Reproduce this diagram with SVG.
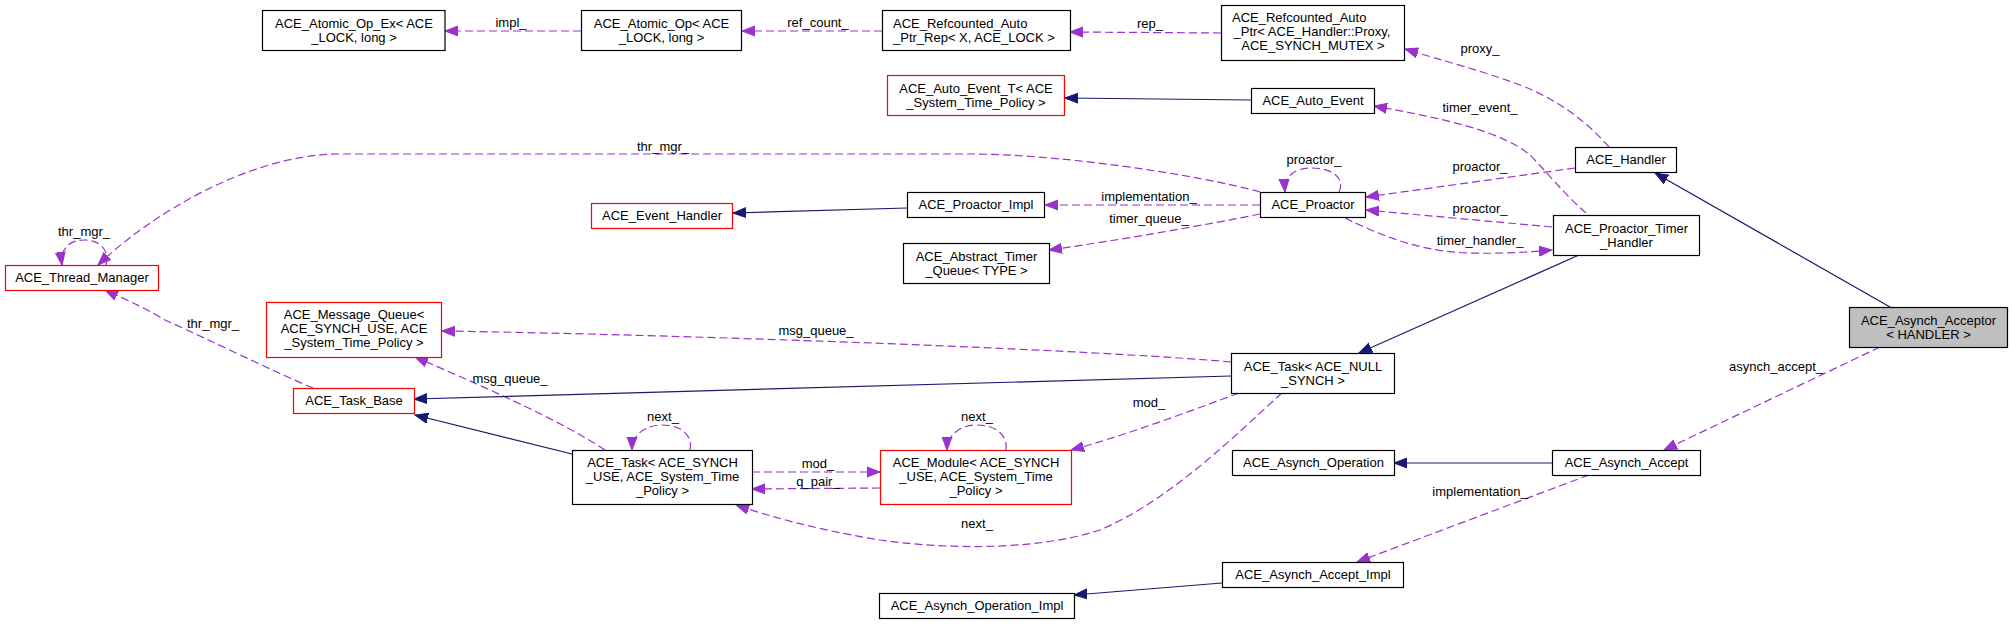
<svg xmlns="http://www.w3.org/2000/svg" width="2012" height="624" viewBox="0 0 2012 624">
<style>
  .node rect { fill: #ffffff; stroke: #000000; stroke-width: 1.2; }
  .node.red rect { stroke: #ff0000; }
  .node.cur rect { fill: #bfbfbf; }
  text { font-family: "Liberation Sans", Arial, sans-serif; font-size: 13px; fill: #000000; }
  .node text { text-anchor: middle; }
  .lbl { text-anchor: middle; }
  .use { fill: none; stroke: #9a32cd; stroke-width: 1.2; stroke-dasharray: 8,4; marker-end: url(#ap); }
  .inh { fill: none; stroke: #191970; stroke-width: 1.2; marker-end: url(#an); }
</style>
<defs>
  <marker id="ap" markerUnits="userSpaceOnUse" markerWidth="14" markerHeight="12" viewBox="0 0 14 12" refX="13" refY="6" orient="auto">
    <path d="M0,1 L13,6 L0,11 Z" fill="#9a32cd" stroke="#9a32cd" stroke-width="1"/>
  </marker>
  <marker id="an" markerUnits="userSpaceOnUse" markerWidth="14" markerHeight="12" viewBox="0 0 14 12" refX="13" refY="6" orient="auto">
    <path d="M0,1 L13,6 L0,11 Z" fill="#191970" stroke="#191970" stroke-width="1"/>
  </marker>
</defs>
<rect x="0" y="0" width="2012" height="624" fill="#ffffff"/>

<g id="connectors">
  <!-- usage (dashed purple) -->
  <path class="use" d="M581,31 L445,31"/>
  <text class="lbl" x="511" y="27">impl_</text>
  <path class="use" d="M882,31 L742,31"/>
  <text class="lbl" x="818" y="27">ref_count_</text>
  <path class="use" d="M1221,33 L1070,32"/>
  <text class="lbl" x="1150" y="28">rep_</text>
  <path class="use" d="M1609,147 C1590,125 1560,100 1520,85 C1480,70 1440,60 1405,49"/>
  <text class="lbl" x="1480" y="53">proxy_</text>
  <path class="use" d="M1586,213 C1565,195 1545,170 1530,155 C1500,130 1440,118 1374,106"/>
  <text class="lbl" x="1480" y="112">timer_event_</text>
  <path class="use" d="M1575,168 L1366,197"/>
  <text class="lbl" x="1480" y="171">proactor_</text>
  <path class="use" d="M1552,227 L1366,210"/>
  <text class="lbl" x="1480" y="213">proactor_</text>
  <path class="use" d="M1345,218 C1380,235 1420,252 1470,253 C1500,254 1530,252 1552,250"/>
  <text class="lbl" x="1480" y="245">timer_handler_</text>
  <path class="use" d="M1260,205 L1045,205"/>
  <text class="lbl" x="1149" y="201">implementation_</text>
  <path class="use" d="M1260,214 C1200,226 1120,240 1049,250"/>
  <text class="lbl" x="1149" y="223">timer_queue_</text>
  <path class="use" d="M1339,192 C1345,180 1335,168 1312,168 C1292,168 1284,178 1285,192"/>
  <text class="lbl" x="1314" y="164">proactor_</text>
  <path class="use" d="M1260,192 C1200,175 1060,154 970,154 L340,154 C250,154 150,215 98,265"/>
  <text class="lbl" x="663" y="151">thr_mgr_</text>
  <path class="use" d="M106,265 C110,250 100,240 84,240 C68,240 60,250 62,265"/>
  <text class="lbl" x="84" y="236">thr_mgr_</text>
  <path class="use" d="M313,388 C270,370 210,340 165,320 C140,305 120,297 105,290"/>
  <text class="lbl" x="213" y="328">thr_mgr_</text>
  <path class="use" d="M605,450 C560,420 480,385 415,357"/>
  <text class="lbl" x="510" y="383">msg_queue_</text>
  <path class="use" d="M1231,362 C1100,350 700,335 442,331"/>
  <text class="lbl" x="816" y="335">msg_queue_</text>
  <path class="use" d="M690,450 C693,437 683,425 662,425 C643,425 632,437 632,450"/>
  <text class="lbl" x="663" y="421">next_</text>
  <path class="use" d="M752,472 L880,472"/>
  <text class="lbl" x="818" y="468">mod_</text>
  <path class="use" d="M880,488 L752,489"/>
  <text class="lbl" x="818" y="486">q_pair_</text>
  <path class="use" d="M1006,450 C1008,437 998,425 977,425 C958,425 947,437 947,450"/>
  <text class="lbl" x="977" y="421">next_</text>
  <path class="use" d="M1239,393 C1180,415 1120,437 1071,450"/>
  <text class="lbl" x="1149" y="407">mod_</text>
  <path class="use" d="M1282,393 C1230,440 1170,500 1100,530 C1040,550 950,550 880,540 C830,532 780,520 736,505"/>
  <text class="lbl" x="977" y="528">next_</text>
  <path class="use" d="M1880,347 L1664,450"/>
  <text class="lbl" x="1776" y="371">asynch_accept_</text>
  <path class="use" d="M1589,475 L1357,562"/>
  <text class="lbl" x="1480" y="496">implementation_</text>

  <!-- inheritance (solid navy) -->
  <path class="inh" d="M1251,100 L1065,98"/>
  <path class="inh" d="M907,208 L733,213"/>
  <path class="inh" d="M1890,307 L1655,173"/>
  <path class="inh" d="M1579,255 L1359,353"/>
  <path class="inh" d="M1231,376 L414,399"/>
  <path class="inh" d="M572,454 L415,415"/>
  <path class="inh" d="M1552,463 L1394,463"/>
  <path class="inh" d="M1222,583 L1074,595"/>
</g>

<g id="n_atomic_op_ex" class="node"><rect x="262.5" y="10.5" width="182.5" height="40"/>
  <text x="354" y="27.5">ACE_Atomic_Op_Ex&lt; ACE</text><text x="354" y="41.5">_LOCK, long &gt;</text></g>
<g id="n_atomic_op" class="node"><rect x="581.5" y="10.5" width="160" height="40"/>
  <text x="661.5" y="27.5">ACE_Atomic_Op&lt; ACE</text><text x="661.5" y="41.5">_LOCK, long &gt;</text></g>
<g id="n_refcounted_rep" class="node"><rect x="882.5" y="10.5" width="188" height="40"/>
  <text x="893" y="27.5" style="text-anchor:start">ACE_Refcounted_Auto</text><text x="893" y="41.5" style="text-anchor:start">_Ptr_Rep&lt; X, ACE_LOCK &gt;</text></g>
<g id="n_refcounted_ptr" class="node"><rect x="1221.5" y="5.5" width="183" height="55"/>
  <text x="1232" y="22" style="text-anchor:start">ACE_Refcounted_Auto</text><text x="1312" y="36">_Ptr&lt; ACE_Handler::Proxy,</text><text x="1313" y="50">ACE_SYNCH_MUTEX &gt;</text></g>
<g id="n_auto_event_t" class="node red"><rect x="887.5" y="75.5" width="177" height="40"/>
  <text x="976" y="92.5">ACE_Auto_Event_T&lt; ACE</text><text x="976" y="106.5">_System_Time_Policy &gt;</text></g>
<g id="n_auto_event" class="node"><rect x="1251.5" y="88.5" width="123" height="25"/>
  <text x="1313" y="105">ACE_Auto_Event</text></g>
<g id="n_handler" class="node"><rect x="1575.5" y="147.5" width="101" height="25"/>
  <text x="1626" y="164">ACE_Handler</text></g>
<g id="n_proactor" class="node"><rect x="1260.5" y="192.5" width="105" height="25"/>
  <text x="1313" y="209">ACE_Proactor</text></g>
<g id="n_proactor_impl" class="node"><rect x="907.5" y="192.5" width="137" height="25"/>
  <text x="976" y="209">ACE_Proactor_Impl</text></g>
<g id="n_event_handler" class="node red"><rect x="591.5" y="203.5" width="141" height="25"/>
  <text x="662" y="220">ACE_Event_Handler</text></g>
<g id="n_abstract_timer" class="node"><rect x="903.5" y="243.5" width="146" height="40"/>
  <text x="976.5" y="260.5">ACE_Abstract_Timer</text><text x="976.5" y="274.5">_Queue&lt; TYPE &gt;</text></g>
<g id="n_proactor_timer_handler" class="node"><rect x="1553.5" y="215.5" width="146" height="40"/>
  <text x="1626.5" y="232.5">ACE_Proactor_Timer</text><text x="1626.5" y="246.5">_Handler</text></g>
<g id="n_thread_manager" class="node red"><rect x="5.5" y="265.5" width="153" height="25"/>
  <text x="82" y="282">ACE_Thread_Manager</text></g>
<g id="n_message_queue" class="node red"><rect x="266.5" y="302.5" width="175" height="55"/>
  <text x="354" y="319">ACE_Message_Queue&lt;</text><text x="354" y="333">ACE_SYNCH_USE, ACE</text><text x="354" y="347">_System_Time_Policy &gt;</text></g>
<g id="n_task_base" class="node red"><rect x="293.5" y="388.5" width="121" height="25"/>
  <text x="354" y="405">ACE_Task_Base</text></g>
<g id="n_task_null" class="node"><rect x="1231.5" y="353.5" width="163" height="40"/>
  <text x="1313" y="370.5">ACE_Task&lt; ACE_NULL</text><text x="1313" y="384.5">_SYNCH &gt;</text></g>
<g id="n_task_synch" class="node"><rect x="572.5" y="450.5" width="180" height="54"/>
  <text x="662.5" y="467">ACE_Task&lt; ACE_SYNCH</text><text x="662.5" y="481">_USE, ACE_System_Time</text><text x="662.5" y="495">_Policy &gt;</text></g>
<g id="n_module" class="node red"><rect x="880.5" y="450.5" width="191" height="54"/>
  <text x="976" y="467">ACE_Module&lt; ACE_SYNCH</text><text x="976" y="481">_USE, ACE_System_Time</text><text x="976" y="495">_Policy &gt;</text></g>
<g id="n_asynch_acceptor" class="node cur"><rect x="1849.5" y="307.5" width="158" height="40"/>
  <text x="1928.5" y="324.5">ACE_Asynch_Acceptor</text><text x="1928.5" y="338.5">&lt; HANDLER &gt;</text></g>
<g id="n_asynch_operation" class="node"><rect x="1232.5" y="450.5" width="162" height="25"/>
  <text x="1313.5" y="467">ACE_Asynch_Operation</text></g>
<g id="n_asynch_accept" class="node"><rect x="1552.5" y="450.5" width="148" height="25"/>
  <text x="1626.5" y="467">ACE_Asynch_Accept</text></g>
<g id="n_asynch_accept_impl" class="node"><rect x="1222.5" y="562.5" width="181" height="25"/>
  <text x="1313" y="579">ACE_Asynch_Accept_Impl</text></g>
<g id="n_asynch_operation_impl" class="node"><rect x="879.5" y="593.5" width="195" height="25"/>
  <text x="977" y="610">ACE_Asynch_Operation_Impl</text></g>
</svg>
